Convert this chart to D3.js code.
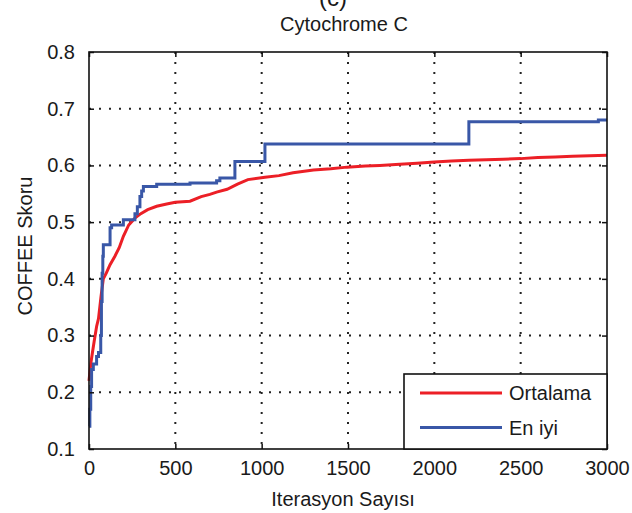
<!DOCTYPE html>
<html>
<head>
<meta charset="utf-8">
<script src="https://cdn.jsdelivr.net/npm/d3@7"></script>
<style>
  html, body { margin: 0; padding: 0; background: #fff; }
  svg text { font-family: "Liberation Sans", Arial, sans-serif; fill: #1a1a1a; }
</style>
</head>
<body>
<svg id="chart" width="632" height="513"></svg>
<script>
// Convergence of the COFFEE score over iterations
const xTicks = [0, 500, 1000, 1500, 2000, 2500, 3000];
const yTicks = [0.1, 0.2, 0.3, 0.4, 0.5, 0.6, 0.7, 0.8];

// Ortalama (mean of population)
const meanIter = [0, 10, 20, 30, 44, 55, 70, 83, 100, 122, 150, 175, 199, 230, 266, 300, 340, 392, 450, 500,
  585, 650, 700, 739, 800, 860, 920, 1019, 1100, 1182, 1300, 1400, 1494, 1600, 1685, 1800, 1900, 2000,
  2100, 2200, 2300, 2400, 2500, 2600, 2700, 2800, 2900, 3000];
const meanScore = [0.22, 0.25, 0.27, 0.29, 0.316, 0.33, 0.37, 0.40, 0.41, 0.425, 0.44, 0.455, 0.475, 0.495, 0.507,
  0.515, 0.522, 0.528, 0.532, 0.535, 0.537, 0.545, 0.549, 0.553, 0.558, 0.567, 0.575, 0.579, 0.582, 0.587,
  0.592, 0.594, 0.597, 0.599, 0.600, 0.602, 0.604, 0.606, 0.608, 0.609, 0.610, 0.611, 0.612, 0.614, 0.615,
  0.616, 0.617, 0.618];

// En iyi (best individual), piecewise constant
const bestIter = [0, 5, 10, 15, 25, 44, 55, 68, 72, 76, 80, 83, 122, 131, 199, 266, 280, 295, 305, 315,
  392, 585, 739, 758, 845, 1019, 2200, 2950, 3000];
const bestScore = [0.14, 0.17, 0.21, 0.24, 0.25, 0.263, 0.27, 0.30, 0.36, 0.41, 0.44, 0.46, 0.49, 0.495, 0.504,
  0.515, 0.527, 0.545, 0.555, 0.563, 0.567, 0.569, 0.573, 0.578, 0.607, 0.638, 0.677, 0.68, 0.68];

const seriesNames = ["Ortalama", "En iyi"];
const seriesColors = ["#ec1f26", "#3957a7"];

const svg = d3.select("#chart");
const plotL = 89, plotR = 607, plotT = 52, plotB = 449;

const x = d3.scaleLinear().domain([0, 3000]).range([plotL, plotR]);
const y = d3.scaleLinear().domain([0.1, 0.8]).range([plotB, plotT]);

// dotted grid
const grid = svg.append("g");
grid.selectAll("line.gx").data(xTicks.slice(1, -1)).join("line")
  .attr("x1", d => x(d)).attr("x2", d => x(d)).attr("y1", plotT).attr("y2", plotB)
  .attr("stroke", "#222").attr("stroke-width", 2).attr("stroke-dasharray", "2,8");
grid.selectAll("line.gy").data(yTicks.slice(1, -1)).join("line")
  .attr("x1", plotL).attr("x2", plotR).attr("y1", d => y(d)).attr("y2", d => y(d))
  .attr("stroke", "#222").attr("stroke-width", 2).attr("stroke-dasharray", "2,8");

// lines
const meanData = meanIter.map((d, i) => [d, meanScore[i]]);
const bestData = bestIter.map((d, i) => [d, bestScore[i]]);

svg.append("path").datum(meanData)
  .attr("fill", "none").attr("stroke", seriesColors[0]).attr("stroke-width", 3)
  .attr("d", d3.line().x(d => x(d[0])).y(d => y(d[1])));
svg.append("path").datum(bestData)
  .attr("fill", "none").attr("stroke", seriesColors[1]).attr("stroke-width", 3)
  .attr("d", d3.line().x(d => x(d[0])).y(d => y(d[1])).curve(d3.curveStepAfter));

// axes: ticks inside on all four sides
const axB = d3.axisBottom(x).tickValues(xTicks).tickSizeInner(-5).tickSizeOuter(0).tickPadding(12).tickFormat(d3.format("d"));
const axT = d3.axisTop(x).tickValues(xTicks).tickSizeInner(-5).tickSizeOuter(0).tickFormat("");
const axL = d3.axisLeft(y).tickValues(yTicks).tickSizeInner(-5).tickSizeOuter(0).tickPadding(14).tickFormat(d3.format(".1f"));
const axR = d3.axisRight(y).tickValues(yTicks).tickSizeInner(-5).tickSizeOuter(0).tickFormat("");

function styleAxis(g) {
  g.select(".domain").remove();
  g.selectAll(".tick line").attr("stroke", "#111").attr("stroke-width", 1.5);
  g.selectAll(".tick text").attr("font-size", 20).attr("fill", "#1a1a1a")
    .attr("font-family", "'Liberation Sans', Arial, sans-serif");
}
svg.append("g").attr("transform", `translate(0,${plotB})`).call(axB).call(styleAxis);
svg.append("g").attr("transform", `translate(0,${plotT})`).call(axT).call(styleAxis);
svg.append("g").attr("transform", `translate(${plotL},0)`).call(axL).call(styleAxis);
svg.append("g").attr("transform", `translate(${plotR},0)`).call(axR).call(styleAxis);

// frame
svg.append("rect").attr("x", plotL).attr("y", plotT).attr("width", plotR - plotL).attr("height", plotB - plotT)
  .attr("fill", "none").attr("stroke", "#111").attr("stroke-width", 1.6);

// legend
const lg = svg.append("g");
lg.append("rect").attr("x", 404).attr("y", 374).attr("width", plotR - 404).attr("height", plotB - 374)
  .attr("fill", "#fff").attr("stroke", "#111").attr("stroke-width", 1.6);
seriesNames.forEach((name, i) => {
  const ly = 393 + i * 34.5;
  lg.append("line").attr("x1", 420).attr("x2", 502).attr("y1", ly).attr("y2", ly)
    .attr("stroke", seriesColors[i]).attr("stroke-width", 3);
  lg.append("text").attr("x", 509).attr("y", ly + 7).attr("font-size", 20).text(name);
});

// titles
svg.append("text").attr("x", 333).attr("y", 6).attr("text-anchor", "middle")
  .attr("font-family", "'Liberation Serif', 'Times New Roman', serif").attr("font-size", 24).text("(c)");
svg.append("text").attr("x", 344).attr("y", 31).attr("text-anchor", "middle").attr("font-size", 20)
  .text("Cytochrome C");
svg.append("text").attr("x", 343).attr("y", 506).attr("text-anchor", "middle").attr("font-size", 20)
  .text("Iterasyon Sayısı");
svg.append("text").attr("transform", "translate(32,246) rotate(-90)").attr("text-anchor", "middle")
  .attr("font-size", 20).text("COFFEE Skoru");
</script>
</body>
</html>
